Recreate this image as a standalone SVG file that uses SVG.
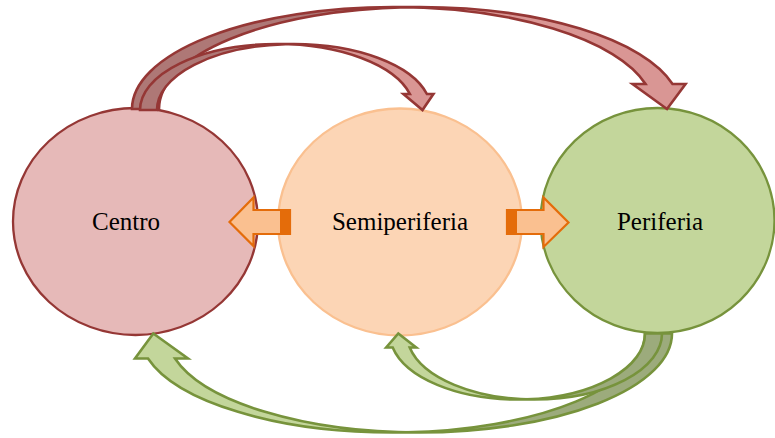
<svg xmlns="http://www.w3.org/2000/svg" width="775" height="438" viewBox="0 0 775 438">
  <style>
    .label { font-family: "Liberation Serif", "Times New Roman", serif; font-size: 25px; fill: #000; text-anchor: middle; }
    .red-front { fill: #d99694; stroke: none; }
    .red-back { fill: #ae7876; stroke: none; }
    .red-line { fill: none; stroke: #953735; stroke-width: 2.6; stroke-linejoin: miter; }
    .green-front { fill: #c3d69b; stroke: none; }
    .green-back { fill: #9cab7c; stroke: none; }
    .green-line { fill: none; stroke: #77933c; stroke-width: 2.6; stroke-linejoin: miter; }
    .block { fill: #fac090; stroke: #e46c0a; stroke-width: 2.2; stroke-linejoin: miter; }
    .block-end { fill: #e46c0a; }
  </style>

  <!-- nodes -->
  <g id="centro">
    <ellipse cx="135.5" cy="221.5" rx="122.5" ry="113.5" fill="#e6b9b8" stroke="#953735" stroke-width="2.3"/>
    <text class="label" x="126" y="230">Centro</text>
  </g>
  <g id="semiperiferia">
    <ellipse cx="400" cy="222" rx="122" ry="113.5" fill="#fcd5b5" stroke="#fac090" stroke-width="2.3"/>
    <text class="label" x="400" y="230">Semiperiferia</text>
  </g>
  <g id="periferia">
    <ellipse cx="657.5" cy="220.5" rx="117" ry="112.5" fill="#c3d69b" stroke="#77933c" stroke-width="2.3"/>
    <text class="label" x="660" y="230">Periferia</text>
  </g>

  <!-- connectors -->
  <g id="connectors">
    <!-- Centro -> Periferia (curved, over the top) -->
    <g id="centro-periferia" transform="translate(132 109)">
      <path class="red-front" d="M535,0 L500.55,-25 L513.55,-25 A260.75 102 0 0 0 260.75,-102 L287.75,-102 A260.75 102 0 0 1 540.55,-25 L553.55,-25 Z"/>
      <path class="red-back" d="M274.25,-101.86 A260.75 102 0 0 0 27,0 L0,0 A260.75 102 0 0 1 274.25,-101.86 Z"/>
      <path class="red-line" d="M274.25,-101.86 A260.75 102 0 0 0 27,0 L0,0 A260.75 102 0 0 1 260.75,-102 L287.75,-102 A260.75 102 0 0 1 540.55,-25 L553.55,-25 L535,0 L500.55,-25 L513.55,-25 A260.75 102 0 0 0 260.75,-102"/>
    </g>
    <!-- Centro -> Semiperiferia -->
    <g id="centro-semiperiferia" transform="translate(140 110)">
      <path class="red-front" d="M282.5,0 L263.41,-16 L269.91,-16 A137 66 0 0 0 137,-66 L154,-66 A137 66 0 0 1 286.91,-16 L293.41,-16 Z"/>
      <path class="red-back" d="M145.5,-65.87 A137 66 0 0 0 17,0 L0,0 A137 66 0 0 1 145.5,-65.87 Z"/>
      <path class="red-line" d="M145.5,-65.87 A137 66 0 0 0 17,0 L0,0 A137 66 0 0 1 137,-66 L154,-66 A137 66 0 0 1 286.91,-16 L293.41,-16 L282.5,0 L263.41,-16 L269.91,-16 A137 66 0 0 0 137,-66"/>
    </g>
    <!-- Periferia -> Centro (curved, underneath) -->
    <g id="periferia-centro" transform="translate(672 333.5) rotate(180)">
      <path class="green-front" d="M518.7,0 L484.01,-25 L497.01,-25 A252.6 99 0 0 0 252.6,-99 L279.6,-99 A252.6 99 0 0 1 524.01,-25 L537.01,-25 Z"/>
      <path class="green-back" d="M266.1,-98.86 A252.6 99 0 0 0 27,0 L0,0 A252.6 99 0 0 1 266.1,-98.86 Z"/>
      <path class="green-line" d="M266.1,-98.86 A252.6 99 0 0 0 27,0 L0,0 A252.6 99 0 0 1 252.6,-99 L279.6,-99 A252.6 99 0 0 1 524.01,-25 L537.01,-25 L518.7,0 L484.01,-25 L497.01,-25 A252.6 99 0 0 0 252.6,-99"/>
    </g>
    <!-- Periferia -> Semiperiferia -->
    <g id="periferia-semiperiferia" transform="translate(662 333.5) rotate(180)">
      <path class="green-front" d="M263.7,0 L245.8,-14 L252.3,-14 A127.6 66 0 0 0 127.6,-66 L144.6,-66 A127.6 66 0 0 1 269.3,-14 L275.8,-14 Z"/>
      <path class="green-back" d="M136.1,-65.85 A127.6 66 0 0 0 17,0 L0,0 A127.6 66 0 0 1 136.1,-65.85 Z"/>
      <path class="green-line" d="M136.1,-65.85 A127.6 66 0 0 0 17,0 L0,0 A127.6 66 0 0 1 127.6,-66 L144.6,-66 A127.6 66 0 0 1 269.3,-14 L275.8,-14 L263.7,0 L245.8,-14 L252.3,-14 A127.6 66 0 0 0 127.6,-66"/>
    </g>
    <!-- Semiperiferia -> Centro -->
    <g id="semiperiferia-centro">
      <polygon class="block" points="290,210 253.5,210 253.5,197.5 229.5,222 253.5,246 253.5,234 290,234"/>
      <rect class="block-end" x="280" y="209" width="10.5" height="26"/>
    </g>
    <!-- Semiperiferia -> Periferia -->
    <g id="semiperiferia-periferia">
      <polygon class="block" points="507,210 543.5,210 543.5,197.5 568.5,222.5 543.5,247 543.5,234 507,234"/>
      <rect class="block-end" x="506.5" y="209" width="10.5" height="26"/>
    </g>
  </g>
</svg>
